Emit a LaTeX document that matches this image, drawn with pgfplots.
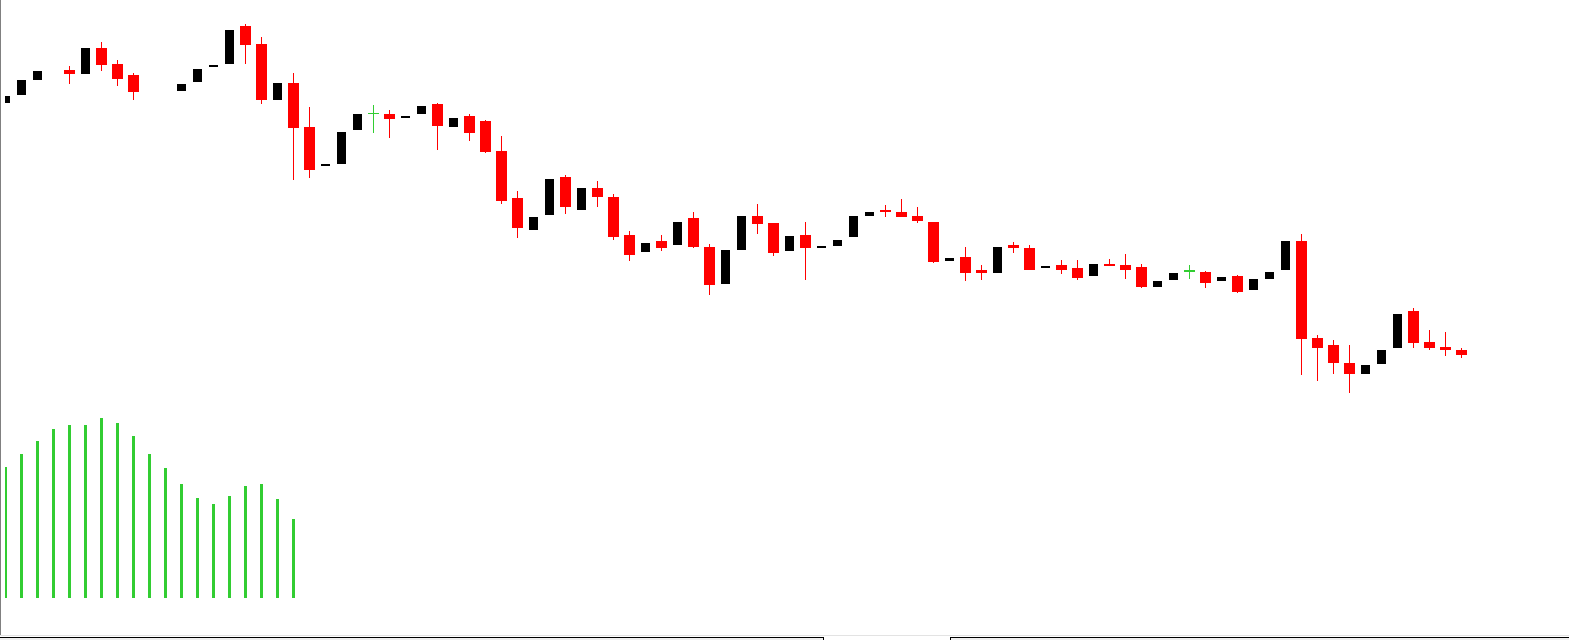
\documentclass[border=0pt]{standalone}
\usepackage{pgfplots}
\pgfplotsset{compat=1.18}
\definecolor{cgreen}{RGB}{50,205,50}
\definecolor{framegray}{RGB}{128,128,128}
\definecolor{linegray}{RGB}{227,227,227}
\definecolor{tabgray}{RGB}{240,240,240}
\begin{document}
\begin{tikzpicture}
\begin{axis}[
  at={(2.5pt,0pt)}, anchor=south west,
  scale only axis, width=782pt, height=320pt,
  xmin=-0.03125, xmax=97.71875, ymin=0, ymax=640,
  hide axis, clip=true]
% histogram
\addplot[cgreen, line width=1.5pt, quiver={u=0,v=\thisrow{h}}] table[x=i,y=y]{
i y h
0 42 131
1 42 144
2 42 157
3 42 169
4 42 173
5 42 173
6 42 180
7 42 175
8 42 162
9 42 144
10 42 130
11 42 114
12 42 100
13 42 94
14 42 102
15 42 112
16 42 114
17 42 99
18 42 79
};
% red wicks
\addplot[red, line width=0.55pt, quiver={u=0,v=\thisrow{h}}] table[x=i,y=y]{
i y h
4 556 18
6 569 29
7 554 26
8 540 27
15 576 40
16 536 67
18 460 107
19 462 71
24 502 28
27 490 47
29 499 27
30 487 33
31 436 68
32 402 47
35 426 39
37 433 26
38 400 46
39 379 30
41 389 16
43 392 36
44 345 51
47 406 30
48 384 33
50 360 58
55 423 12
56 423 18
57 417 16
58 377 41
60 359 34
61 360 15
63 387 11
64 370 25
66 366 14
67 360 20
69 374 7
70 361 25
71 352 24
75 352 17
77 347 18
81 265 141
82 259 46
83 266 34
84 247 48
88 292 40
89 290 20
90 284 24
91 282 10
};
% red bodies
\addplot[red, line width=5.5pt, quiver={u=0,v=\thisrow{h}}] table[x=i,y=y]{
i y h
4 566 4
6 575 17
7 561 15
8 548 17
15 595 19
16 540 56
18 512 45
19 470 43
24 521 5
27 514 22
29 507 17
30 488 31
31 439 50
32 412 30
35 433 30
37 443 9
38 403 40
39 385 20
41 392 7
43 393 29
44 355 38
47 416 8
48 387 30
50 392 13
55 428 2
56 423 5
57 419 5
58 378 40
60 367 16
61 367 3
63 392 3
64 370 22
66 370 5
67 362 10
69 374 2
70 370 5
71 353 20
75 357 11
77 348 16
81 301 98
82 292 10
83 277 18
84 266 11
88 297 32
89 292 6
90 290 3
91 285 5
};
% black bodies
\addplot[black, line width=4.5pt, quiver={u=0,v=\thisrow{h}}] table[x=i,y=y]{
i y h
0 537 7
1 545 15
2 560 9
5 566 26
11 549 7
12 558 13
13 573 1.5
14 576 34
17 540 17
20 474 2
21 476 32
22 510 16
25 522 2
26 526 8
28 513 9
33 410 13
34 425 36
36 430 22
40 388 9
42 395 23
45 356 34
46 390 34
49 389 15
51 392 2
52 394 6
53 403 21
54 424 4
59 379 3
62 367 26
65 372 1.5
68 364 12
72 353 6
73 360 7
76 359 4
78 350 11
79 361 7
80 370 29
85 266 9
86 276 14
87 292 34
};
% green doji crosses
\addplot[cgreen, line width=0.6pt, quiver={u=0,v=\thisrow{h}}] table[x=i,y=y]{
i y h
23 507 28
74 361 14
};
\addplot[cgreen, line width=0.6pt, quiver={u=\thisrow{u},v=0}] table[x=x,y=y]{
x y u
22.65625 526.5 0.6875
73.65625 369 0.6875
};
\end{axis}
% frame
\fill[framegray] (0,2.5pt) rectangle (0.65pt,320pt);
\fill[linegray] (0,2pt) rectangle (784.5pt,2.5pt);
\fill[black] (0,0) rectangle (412pt,1.35pt);
\fill[tabgray] (0,0) rectangle (411.4pt,0.85pt);
\fill[black] (475pt,0) rectangle (784.5pt,1.35pt);
\fill[tabgray] (475.6pt,0) rectangle (784.5pt,0.85pt);
\path (0,0) rectangle (784.5pt,320pt);
\end{tikzpicture}
\end{document}
